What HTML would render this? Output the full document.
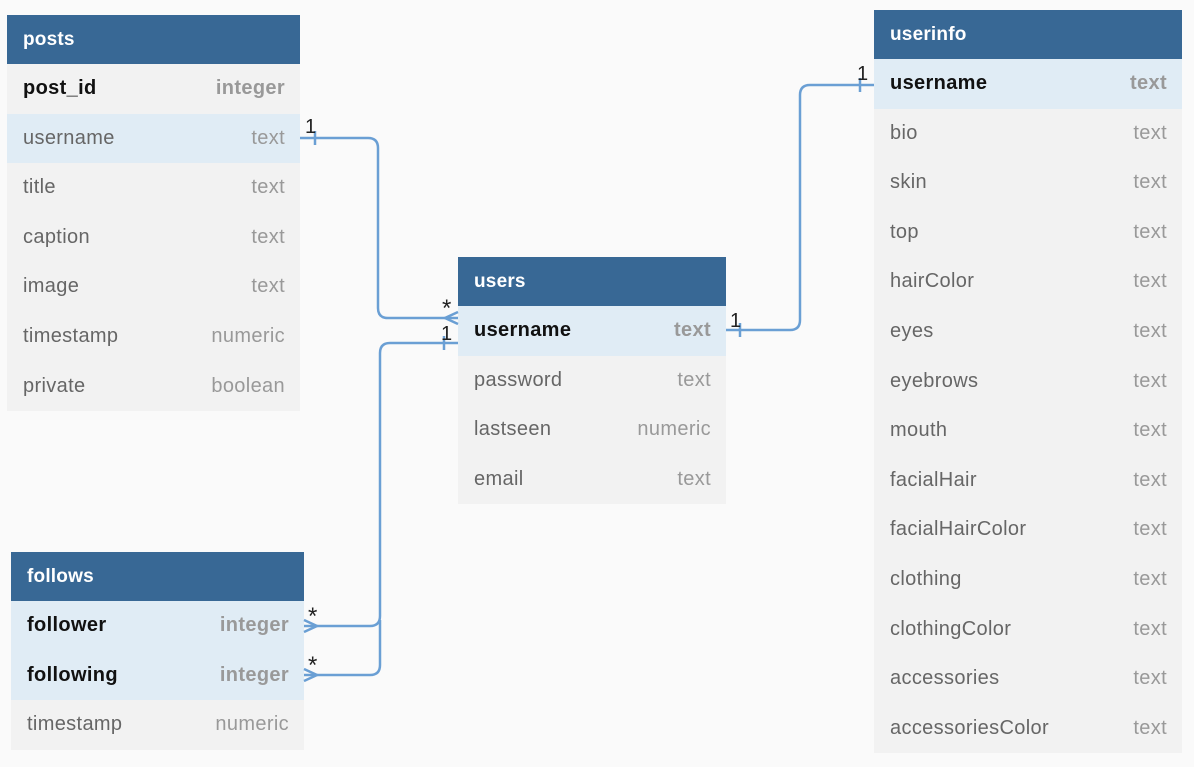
<!DOCTYPE html>
<html><head><style>
body{margin:0;width:1194px;height:767px;background:#fafafa;position:relative;overflow:hidden;font-family:"Liberation Sans",sans-serif;}
.t{position:absolute;background:#f2f2f2;}
.h{height:49px;background:#386895;color:#fff;font-weight:bold;font-size:19px;line-height:49px;padding-left:16px;letter-spacing:0.2px;}
.r{height:49.6px;line-height:49.6px;font-size:20px;letter-spacing:0.35px;color:#666;padding:0 15px 0 16px;display:flex;justify-content:space-between;}
.r span:last-child{color:#999;}
.k{background:#e0ecf5;}
.b span:first-child{color:#111;font-weight:bold;}
.b span:last-child{font-weight:bold;color:#999;}
svg{position:absolute;left:0;top:0;}
</style></head><body>
<div class="t" style="left:7px;top:15px;width:293px">
<div class="h">posts</div>
<div class="r b"><span>post_id</span><span>integer</span></div>
<div class="r k"><span>username</span><span>text</span></div>
<div class="r"><span>title</span><span>text</span></div>
<div class="r"><span>caption</span><span>text</span></div>
<div class="r"><span>image</span><span>text</span></div>
<div class="r"><span>timestamp</span><span>numeric</span></div>
<div class="r"><span>private</span><span>boolean</span></div>
</div>
<div class="t" style="left:458px;top:257px;width:268px">
<div class="h">users</div>
<div class="r k b"><span>username</span><span>text</span></div>
<div class="r"><span>password</span><span>text</span></div>
<div class="r"><span>lastseen</span><span>numeric</span></div>
<div class="r"><span>email</span><span>text</span></div>
</div>
<div class="t" style="left:874px;top:10px;width:308px">
<div class="h">userinfo</div>
<div class="r k b"><span>username</span><span>text</span></div>
<div class="r"><span>bio</span><span>text</span></div>
<div class="r"><span>skin</span><span>text</span></div>
<div class="r"><span>top</span><span>text</span></div>
<div class="r"><span>hairColor</span><span>text</span></div>
<div class="r"><span>eyes</span><span>text</span></div>
<div class="r"><span>eyebrows</span><span>text</span></div>
<div class="r"><span>mouth</span><span>text</span></div>
<div class="r"><span>facialHair</span><span>text</span></div>
<div class="r"><span>facialHairColor</span><span>text</span></div>
<div class="r"><span>clothing</span><span>text</span></div>
<div class="r"><span>clothingColor</span><span>text</span></div>
<div class="r"><span>accessories</span><span>text</span></div>
<div class="r"><span>accessoriesColor</span><span>text</span></div>
</div>
<div class="t" style="left:11px;top:552px;width:293px">
<div class="h">follows</div>
<div class="r k b"><span>follower</span><span>integer</span></div>
<div class="r k b"><span>following</span><span>integer</span></div>
<div class="r"><span>timestamp</span><span>numeric</span></div>
</div>
<svg width="1194" height="767" fill="none" stroke="#6a9fd4" stroke-width="2.5">
<path d="M300 138 H368 Q378 138 378 148 V308 Q378 318 388 318 H458"/>
<path d="M315 131 V145"/>
<path d="M458 312 L445 318 L458 324"/>
<path d="M726 330 H790 Q800 330 800 320 V95 Q800 85 810 85 H874"/>
<path d="M740 323 V337 M860 78 V92"/>
<path d="M458 343 H390 Q380 343 380 353 V616 Q380 626 370 626 H304"/>
<path d="M380 620 V665 Q380 675 370 675 H304"/>
<path d="M444 336 V350"/>
<path d="M304 620 L317 626 L304 632 M304 669 L317 675 L304 681"/>
<g fill="#222" stroke="none" font-family="Liberation Sans,sans-serif" font-size="20">
<text x="305" y="133">1</text>
<text x="442" y="316" font-size="24">*</text>
<text x="441" y="340">1</text>
<text x="730" y="327">1</text>
<text x="857" y="80">1</text>
<text x="308" y="624" font-size="24">*</text>
<text x="308" y="673" font-size="24">*</text>
</g>
</svg>
</body></html>
